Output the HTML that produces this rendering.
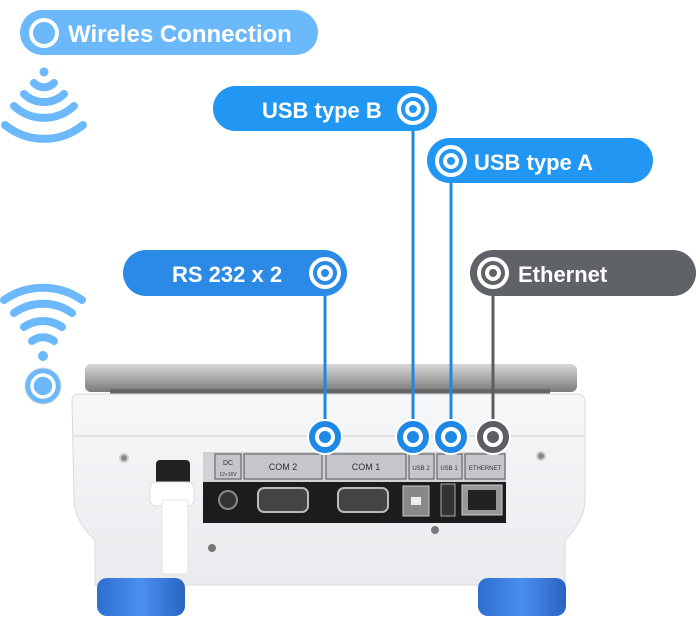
<!DOCTYPE html>
<html><head><meta charset="utf-8"><style>
html,body{margin:0;padding:0;background:#fff;width:700px;height:634px;overflow:hidden}
svg{display:block}
text{font-family:"Liberation Sans",sans-serif;font-weight:bold;fill:#fff}
</style></head><body>
<svg width="700" height="634" viewBox="0 0 700 634" xmlns="http://www.w3.org/2000/svg">
<defs>
<linearGradient id="plate" x1="0" y1="0" x2="0" y2="1"><stop offset="0" stop-color="#d8d8d8"/><stop offset="0.5" stop-color="#a9a9a9"/><stop offset="1" stop-color="#7a7a7a"/></linearGradient>
<linearGradient id="body" x1="0" y1="0" x2="0" y2="1"><stop offset="0" stop-color="#f6f7f9"/><stop offset="1" stop-color="#e9ebee"/></linearGradient>
<linearGradient id="foot" x1="0" y1="0" x2="1" y2="0"><stop offset="0" stop-color="#2d6fd0"/><stop offset="0.5" stop-color="#4a8ff0"/><stop offset="1" stop-color="#2a64c2"/></linearGradient>
</defs>

<rect x="85" y="364" width="492" height="28" rx="6" fill="url(#plate)"/>
<rect x="110" y="389" width="440" height="5" fill="#666"/>
<path d="M72 400 Q72 394 80 394 L577 394 Q585 394 585 402 L585 500 Q585 520 565 540 L565 585 L95 585 L95 540 Q74 520 74 500 Z" fill="url(#body)" stroke="#d8dadd"/>
<rect x="72" y="435" width="513" height="2" fill="#e0e2e5"/>
<rect x="203" y="452" width="303" height="71" fill="#d0d2d6"/>
<rect x="203" y="482" width="303" height="41" fill="#1c1c1e"/>
<g fill="#c4c6cc" stroke="#555" stroke-width="1">
<rect x="215" y="454" width="26" height="25"/><rect x="244" y="454" width="78" height="25"/><rect x="326" y="454" width="80" height="25"/><rect x="409" y="454" width="25" height="25"/><rect x="437" y="454" width="25" height="25"/><rect x="465" y="454" width="40" height="25"/>
</g>
<g>
<text x="228" y="465" font-size="7" text-anchor="middle" style="fill:#333;font-weight:normal">DC</text>
<text x="228" y="476" font-size="5" text-anchor="middle" style="fill:#333;font-weight:normal">12÷16V</text>
<text x="283" y="470" font-size="9" text-anchor="middle" style="fill:#333;font-weight:normal">COM 2</text>
<text x="366" y="470" font-size="9" text-anchor="middle" style="fill:#333;font-weight:normal">COM 1</text>
<text x="421" y="470" font-size="6" text-anchor="middle" style="fill:#333;font-weight:normal">USB 2</text>
<text x="449" y="470" font-size="6" text-anchor="middle" style="fill:#333;font-weight:normal">USB 1</text>
<text x="485" y="470" font-size="6" text-anchor="middle" style="fill:#333;font-weight:normal">ETHERNET</text>
</g>
<circle cx="228" cy="500" r="9" fill="#333" stroke="#888" stroke-width="2"/>
<rect x="258" y="488" width="50" height="24" rx="6" fill="#444" stroke="#bbb" stroke-width="2"/>
<rect x="338" y="488" width="50" height="24" rx="6" fill="#444" stroke="#bbb" stroke-width="2"/>
<rect x="403" y="486" width="26" height="30" fill="#888" stroke="#ccc"/><rect x="411" y="497" width="10" height="8" fill="#eee"/>
<rect x="441" y="484" width="14" height="32" fill="#333" stroke="#aaa"/>
<rect x="462" y="485" width="40" height="30" fill="#999" stroke="#ccc"/><rect x="468" y="490" width="28" height="20" fill="#222"/>
<rect x="156" y="460" width="34" height="26" rx="4" fill="#222"/>
<rect x="150" y="482" width="44" height="24" rx="6" fill="#fff" stroke="#ddd"/>
<rect x="162" y="500" width="26" height="74" rx="3" fill="#fff" stroke="#e2e2e2"/>
<circle cx="124" cy="458" r="4" fill="#888" stroke="#ccc" stroke-width="2"/>
<circle cx="541" cy="456" r="4" fill="#888" stroke="#ccc" stroke-width="2"/>
<circle cx="212" cy="548" r="4" fill="#777"/><circle cx="435" cy="530" r="4" fill="#777"/>
<rect x="97" y="578" width="88" height="38" rx="10" fill="url(#foot)"/>
<rect x="478" y="578" width="88" height="38" rx="10" fill="url(#foot)"/>

<g stroke-width="3">
<line x1="413" y1="109" x2="413" y2="437" stroke="#1e88e5"/>
<line x1="451" y1="161" x2="451" y2="437" stroke="#1e88e5"/>
<line x1="325" y1="273" x2="325" y2="437" stroke="#1e88e5"/>
<line x1="493" y1="273" x2="493" y2="437" stroke="#5a5e63"/>
</g>

<rect x="20" y="10" width="298" height="45" rx="22.5" fill="#6bb9fb"/>
<circle cx="44" cy="33" r="13" fill="none" stroke="#fff" stroke-width="4"/>
<text x="68" y="42" font-size="24">Wireles Connection</text>

<rect x="213" y="86" width="224" height="45" rx="22.5" fill="#2196f3"/>
<text x="262" y="118" font-size="22">USB type B</text>
<rect x="427" y="138" width="226" height="45" rx="22.5" fill="#2196f3"/>
<text x="474" y="170" font-size="22">USB type A</text>
<rect x="123" y="250" width="224" height="46" rx="23" fill="#2a8ae6"/>
<text x="172" y="282" font-size="22">RS 232 x 2</text>
<rect x="470" y="250" width="226" height="46" rx="23" fill="#5f6368"/>
<text x="518" y="282" font-size="22">Ethernet</text>

<g stroke="#fff" stroke-width="4" fill="none">
<circle cx="413" cy="109" r="14" fill="#2196f3"/><circle cx="413" cy="109" r="6"/>
<circle cx="451" cy="161" r="14" fill="#2196f3"/><circle cx="451" cy="161" r="6"/>
<circle cx="325" cy="273" r="14" fill="#2a8ae6"/><circle cx="325" cy="273" r="6"/>
<circle cx="493" cy="273" r="14" fill="#5f6368"/><circle cx="493" cy="273" r="6"/>
</g>
<g>
<circle cx="325" cy="437" r="17" fill="#1e88e5" stroke="#fff" stroke-width="2"/><circle cx="325" cy="437" r="8" fill="#1e88e5" stroke="#fff" stroke-width="4"/>
<circle cx="413" cy="437" r="17" fill="#1e88e5" stroke="#fff" stroke-width="2"/><circle cx="413" cy="437" r="8" fill="#1e88e5" stroke="#fff" stroke-width="4"/>
<circle cx="451" cy="437" r="17" fill="#1e88e5" stroke="#fff" stroke-width="2"/><circle cx="451" cy="437" r="8" fill="#1e88e5" stroke="#fff" stroke-width="4"/>
<circle cx="493" cy="437" r="17" fill="#5a5e63" stroke="#fff" stroke-width="2"/><circle cx="493" cy="437" r="8" fill="#5a5e63" stroke="#fff" stroke-width="4"/>
</g>

<g stroke="#6bb9fb" stroke-width="8" stroke-linecap="round" fill="none">
<circle cx="44" cy="72" r="4.5" fill="#6bb9fb" stroke="none"/>
<path d="M34 83 A14 14 0 0 0 54 83"/>
<path d="M24 94 A29 29 0 0 0 64 94"/>
<path d="M14 106 A44 44 0 0 0 74 106"/>
<path d="M5 125 A62 62 0 0 0 83 125"/>
</g>
<g stroke="#6bb9fb" stroke-width="8" stroke-linecap="round" fill="none">
<circle cx="43" cy="356" r="5" fill="#6bb9fb" stroke="none"/>
<path d="M32 341 A18 18 0 0 1 54 341"/>
<path d="M24 327 A33 33 0 0 1 62 327"/>
<path d="M14 313 A50 50 0 0 1 72 313"/>
<path d="M4 300 A68 68 0 0 1 82 300"/>
</g>
<circle cx="43" cy="386" r="18" fill="#6bb9fb" stroke="#d8d8d8" stroke-width="1"/>
<circle cx="43" cy="386" r="11" fill="none" stroke="#fff" stroke-width="3.5"/>
<circle cx="43" cy="386" r="4" fill="#6bb9fb" stroke="#fff" stroke-width="0"/>
</svg>
</body></html>
